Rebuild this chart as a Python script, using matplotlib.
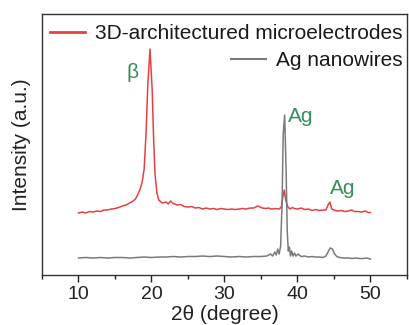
import numpy as np
import matplotlib
matplotlib.use("Agg")
import matplotlib.pyplot as plt
from matplotlib.lines import Line2D
from matplotlib.ticker import MultipleLocator

plt.rcParams["font.family"] = ["Liberation Sans", "DejaVu Sans"]

# 3D-architectured microelectrodes (red)
red_x = [10, 10.5, 11, 11.5, 12, 12.5, 13, 13.5, 14, 14.5, 15, 15.5, 16, 16.5, 17, 17.5,
         17.8, 18.1, 18.4, 18.7, 19.0, 19.25, 19.5, 19.8, 20.1, 20.3, 20.5, 20.75, 21.0,
         21.5, 22.0, 22.3, 22.6, 23.0, 23.5, 24, 24.5, 25, 25.5, 26, 26.5, 27, 27.5, 28,
         28.5, 29, 29.5, 30, 30.5, 31, 31.5, 32, 32.5, 33, 33.5, 34, 34.6, 35.2, 35.7, 36,
         36.5, 37, 37.5, 37.8, 38.0, 38.2, 38.4, 38.7, 39.0, 39.3, 39.6, 40, 40.5, 41, 41.5,
         42, 42.5, 43, 43.5, 43.9, 44.2, 44.45, 44.7, 45.0, 45.5, 46, 46.5, 47, 47.4, 47.8,
         48.3, 48.8, 49.3, 49.7, 50]
red_y = [62, 63, 62, 63.5, 63, 64, 63.5, 65, 65, 66, 66.5, 67.5, 69, 70, 72, 74,
         76, 80, 85, 92, 106, 140, 190, 226, 185, 135, 100, 82, 75,
         72, 73, 71, 74, 71.5, 70, 70.5, 68.5, 68, 68.5, 67, 67.5, 66, 67, 66,
         66.5, 65.5, 66.5, 66, 65.5, 66, 65.5, 66, 66.5, 66, 67, 67, 69, 67, 66.5, 67,
         66, 66.5, 66, 68, 78, 85, 75, 68, 66, 67.5, 66.5, 66, 67, 65.5, 66,
         64.5, 65.5, 64.5, 65, 65, 70, 73, 66, 65, 64, 64.5, 63.5, 64, 65, 63.5,
         63.5, 63, 64, 62.5, 62.5]

# Ag nanowires (grey)
gray_x = [10, 11, 12, 13, 14, 15, 16, 17, 18, 19, 20, 21, 22, 23, 24, 25, 26, 27, 28, 29,
          30, 31, 32, 33, 34, 35, 35.8, 36.3, 36.6, 36.9, 37.1, 37.3, 37.5, 37.7, 37.9,
          38.05, 38.25, 38.45, 38.6, 38.75, 38.9, 39.05, 39.2, 39.4, 39.6, 39.8, 40.1, 40.5,
          41, 41.5, 42, 42.5, 43, 43.5, 43.9, 44.2, 44.5, 44.8, 45.1, 45.4, 45.8, 46.3,
          47, 47.5, 48, 48.5, 49, 49.5, 50]
gray_y = [17, 17.5, 17, 17.5, 17, 17.5, 17.5, 17, 17.5, 18, 17.5, 18, 18, 18.5, 18, 18.5,
          18.5, 19, 18.5, 19, 18.5, 18, 18.5, 18, 18.5, 18.5, 19, 21, 19, 23, 20, 26,
          21, 29, 72, 140, 160, 105, 45, 24, 28, 19, 24, 19, 22, 19, 21, 18.5,
          19, 18, 18.5, 18, 18, 17.5, 19, 23, 27, 26, 21, 18.5, 17.5, 17,
          17, 16.5, 17, 16.5, 16.5, 17, 16]

peak_labels = ["\u03b2", "Ag", "Ag"]
peak_x = [16.6, 38.7, 44.4]
peak_y = [203, 159, 87]

red = "#e8403f"
gray = "#7a7a7a"
green = "#3a8d5c"

fig = plt.figure(figsize=(4.1, 3.25), dpi=100)
ax = fig.add_axes([0.1024, 0.1538, 0.890, 0.803])

ax.plot(red_x, red_y, color=red, lw=1.1)
ax.plot(gray_x, gray_y, color=gray, lw=1.1)

for lab, px, py in zip(peak_labels, peak_x, peak_y):
    ax.text(px, py, lab, color=green, fontsize=15, ha="left", va="center")

ax.set_xlim(5, 55)
ax.set_ylim(0, 261)
ax.xaxis.set_major_locator(MultipleLocator(10))
ax.xaxis.set_minor_locator(MultipleLocator(5))
ax.set_xticks([10, 20, 30, 40, 50])
ax.tick_params(axis="x", which="major", direction="out", length=5, width=1,
               labelsize=14, colors="#222222", pad=3)
ax.tick_params(axis="x", which="minor", direction="out", length=3, width=1, colors="#222222")
ax.set_yticks([])
for s in ax.spines.values():
    s.set_color("#333333")
    s.set_linewidth(1)

ax.set_xlabel("2\u03b8 (degree)", fontsize=15, color="#222222", labelpad=1)
ax.set_ylabel("Intensity (a.u.)", fontsize=15, color="#222222", labelpad=8)

h1 = Line2D([], [], color=red, lw=2)
h2 = Line2D([], [], color=gray, lw=1.5)
leg1 = ax.legend([h1], ["3D-architectured microelectrodes"], loc="upper right",
                 bbox_to_anchor=(1.0, 0.977), frameon=False, fontsize=15,
                 handlelength=1.65, handletextpad=0.5, borderpad=0.1, borderaxespad=0.1,
                 labelcolor="#1a1a1a")
ax.add_artist(leg1)
ax.legend([h2], ["Ag nanowires"], loc="upper right",
          bbox_to_anchor=(1.0, 0.873), frameon=False, fontsize=15,
          handlelength=1.65, handletextpad=0.5, borderpad=0.1, borderaxespad=0.1,
          labelcolor="#1a1a1a")

fig.savefig("out.png", dpi=100)
